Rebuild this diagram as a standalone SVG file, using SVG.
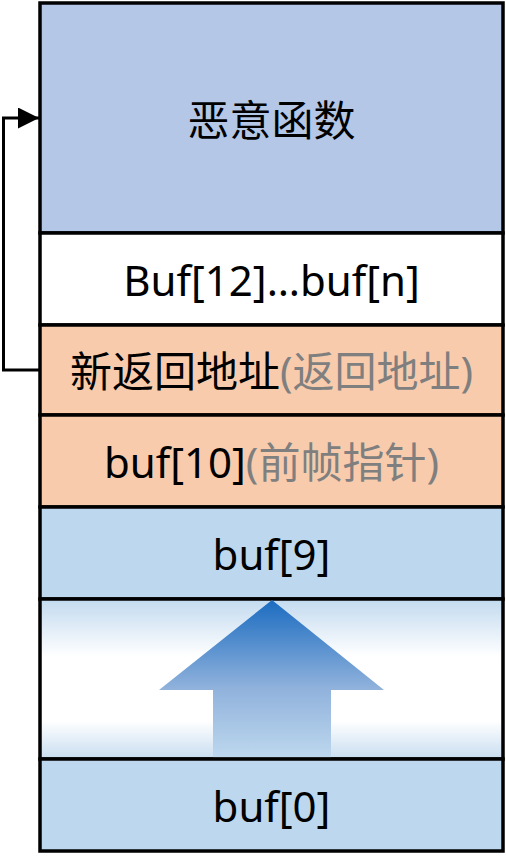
<svg xmlns="http://www.w3.org/2000/svg" width="506" height="856" viewBox="0 0 506 856">
<defs>
<linearGradient id="bgGrad" x1="0" y1="0" x2="0" y2="1">
<stop offset="0" stop-color="#C2DAEF"/>
<stop offset="0.36" stop-color="#FFFFFF"/>
<stop offset="0.76" stop-color="#FFFFFF"/>
<stop offset="1" stop-color="#C8DDF0"/>
</linearGradient>
<linearGradient id="arrowGrad" gradientUnits="userSpaceOnUse" x1="0" y1="599" x2="0" y2="759">
<stop offset="0" stop-color="#1A6BC0"/>
<stop offset="0.56" stop-color="#90B2DC"/>
<stop offset="1" stop-color="#BED8EE"/>
</linearGradient>
<marker id="arrowHead" markerWidth="7" markerHeight="7" refX="7" refY="3.5" orient="auto" markerUnits="strokeWidth">
<path d="M0,0 L7,3.5 L0,7 Z" fill="#000"/>
</marker>
</defs>
<style>
.row{stroke:#000;stroke-width:3.5}
.t{font-family:"Noto Sans","Noto Sans CJK SC",sans-serif;font-size:42px;fill:#000;text-anchor:middle;dominant-baseline:central}
.g{fill:#7F7F7F}
</style>
<rect width="506" height="856" fill="#FFFFFF"/>
<g id="connectors">
<path d="M40,370 H3.5 V118 H39" fill="none" stroke="#000" stroke-width="3" marker-end="url(#arrowHead)"/>
</g>
<g id="node-malicious">
<rect class="row" x="40" y="3" width="463" height="230" fill="#B4C7E7"/>
<text class="t" x="271.5" y="119">恶意函数</text>
</g>
<g id="node-buf12">
<rect class="row" x="40" y="233" width="463" height="92" fill="#FFFFFF"/>
<text class="t" x="271.5" y="279">Buf[12]…buf[n]</text>
</g>
<g id="node-ret">
<rect class="row" x="40" y="325" width="463" height="90" fill="#F8CBAD"/>
<text class="t" x="271.5" y="370">新返回地址<tspan class="g">(返回地址)</tspan></text>
</g>
<g id="node-buf10">
<rect class="row" x="40" y="415" width="463" height="92" fill="#F8CBAD"/>
<text class="t" x="271.5" y="461">buf[10]<tspan class="g">(前帧指针)</tspan></text>
</g>
<g id="node-buf9">
<rect class="row" x="40" y="507" width="463" height="92" fill="#BDD7EE"/>
<text class="t" x="271.5" y="553">buf[9]</text>
</g>
<g id="node-grow">
<rect class="row" x="40" y="599" width="463" height="160" fill="url(#bgGrad)"/>
<polygon points="272,600 384,690 331,690 331,757.5 213,757.5 213,690 159,690" fill="url(#arrowGrad)"/>
</g>
<g id="node-buf0">
<rect class="row" x="40" y="759" width="463" height="92" fill="#BDD7EE"/>
<text class="t" x="271.5" y="805">buf[0]</text>
</g>
</svg>
